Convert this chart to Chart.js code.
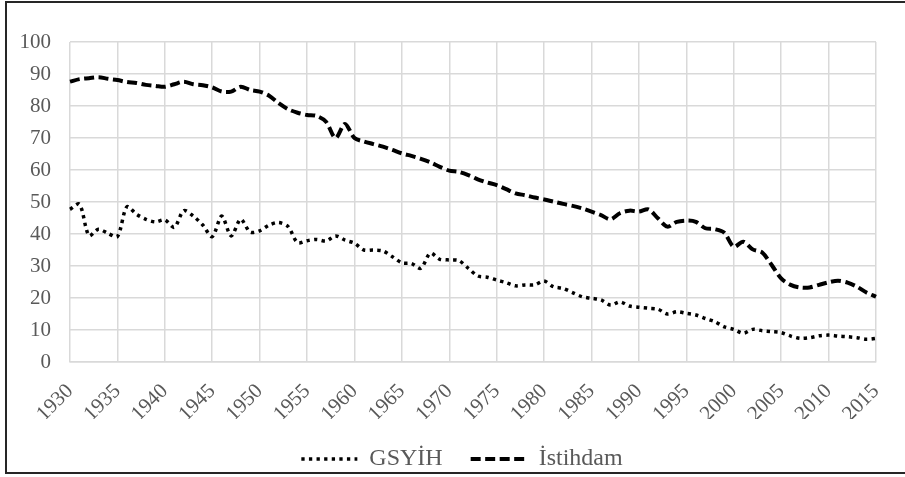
<!DOCTYPE html>
<html>
<head>
<meta charset="utf-8">
<script src="https://cdn.jsdelivr.net/npm/chart.js@4.4.1/dist/chart.umd.min.js"></script>
<style>
  html, body { margin: 0; padding: 0; background: #fff; }
  canvas { display: block; }
</style>
</head>
<body>
<canvas id="mycanvas" width="905" height="477"></canvas>
<script>
var years = [1930, 1931, 1932, 1933, 1934, 1935, 1936, 1937, 1938, 1939,
             1940, 1941, 1942, 1943, 1944, 1945, 1946, 1947, 1948, 1949,
             1950, 1951, 1952, 1953, 1954, 1955, 1956, 1957, 1958, 1959,
             1960, 1961, 1962, 1963, 1964, 1965, 1966, 1967, 1968, 1969,
             1970, 1971, 1972, 1973, 1974, 1975, 1976, 1977, 1978, 1979,
             1980, 1981, 1982, 1983, 1984, 1985, 1986, 1987, 1988, 1989,
             1990, 1991, 1992, 1993, 1994, 1995, 1996, 1997, 1998, 1999,
             2000, 2001, 2002, 2003, 2004, 2005, 2006, 2007, 2008, 2009,
             2010, 2011, 2012, 2013, 2014, 2015];

// GSYİH
var gsyih = [47.7, 49.3, 39.5, 41.5, 40.2, 39.2, 48.5, 46.2, 44.6, 43.8,
             44.4, 42.1, 47.3, 45.6, 42.8, 39.2, 45.6, 39.4, 44.6, 40.6,
             41.0, 42.8, 43.6, 42.3, 37.3, 37.9, 38.3, 37.8, 39.4, 38.1,
             37.1, 35.0, 35.0, 34.7, 32.9, 31.0, 30.8, 29.3, 34.0, 32.1,
             31.9, 31.7, 29.3, 26.9, 26.5, 25.6, 24.8, 23.8, 24.1, 24.1,
             25.3, 23.5, 23.0, 21.7, 20.4, 19.9, 19.4, 17.8, 18.8, 17.5,
             17.1, 16.8, 16.5, 15.0, 15.7, 15.2, 14.7, 13.6, 12.6, 11.0,
             10.2, 9.0, 10.2, 9.8, 9.5, 9.2, 8.1, 7.4, 7.6, 8.2,
             8.4, 8.1, 7.9, 7.6, 7.1, 7.4];

// İstihdam
var istihdam = [87.6, 88.4, 88.7, 89.0, 88.5, 88.1, 87.5, 87.2, 86.6, 86.3,
                86.0, 86.8, 87.6, 86.8, 86.5, 85.8, 84.5, 84.5, 86.0, 85.0,
                84.5, 83.2, 80.9, 79.0, 77.9, 77.2, 76.9, 75.1, 70.0, 74.4,
                70.0, 68.9, 68.1, 67.3, 66.3, 65.2, 64.4, 63.5, 62.4, 61.0,
                59.8, 59.4, 58.4, 57.1, 56.1, 55.3, 54.0, 52.7, 52.1, 51.4,
                50.8, 50.1, 49.4, 48.8, 48.0, 47.0, 45.9, 44.6, 46.5, 47.3,
                47.0, 47.7, 44.9, 42.3, 43.8, 44.2, 43.8, 41.8, 41.5, 40.4,
                36.0, 37.6, 35.2, 34.2, 30.3, 26.1, 24.1, 23.3, 23.3, 24.1,
                24.9, 25.4, 24.8, 23.5, 21.7, 20.4];

var yTicks = [0, 10, 20, 30, 40, 50, 60, 70, 80, 90, 100];

var serif = "'Liberation Serif', 'Times New Roman', serif";
var gridColor = '#d9d9d9';
var textColor = '#595959';

// outer frame of the figure
var framePlugin = {
    id: 'frame',
    afterDraw: function (chart) {
        var ctx = chart.ctx;
        ctx.save();
        ctx.strokeStyle = '#262626';
        ctx.lineWidth = 2;
        ctx.beginPath();
        ctx.moveTo(905, 2);
        ctx.lineTo(6, 2);
        ctx.lineTo(6, 473);
        ctx.lineTo(905, 473);
        ctx.stroke();
        ctx.restore();
    }
};

var chartdata = {
    labels: years,
    datasets: [
        {
            label: 'GSYİH',
            data: gsyih,
            borderColor: '#000',
            backgroundColor: '#000',
            borderWidth: 3.5,
            borderDash: [3.3, 4.3],
            borderCapStyle: 'butt',
            pointRadius: 0,
            tension: 0.3,
            fill: false
        },
        {
            label: 'İstihdam',
            data: istihdam,
            borderColor: '#000',
            backgroundColor: '#000',
            borderWidth: 4,
            borderDash: [10, 4.5],
            borderCapStyle: 'butt',
            pointRadius: 0,
            tension: 0.3,
            fill: false
        }
    ]
};

var ctx = document.getElementById('mycanvas');

var lineGraph = new Chart(ctx, {
    type: 'line',
    data: chartdata,
    plugins: [framePlugin],
    options: {
        responsive: false,
        animation: false,
        layout: { padding: { top: 42, right: 0, left: 19, bottom: -4 } },
        plugins: {
            tooltip: { enabled: false },
            legend: {
                position: 'bottom',
                labels: {
                    usePointStyle: true,
                    pointStyle: 'line',
                    pointStyleWidth: 56,
                    padding: 28,
                    color: textColor,
                    font: { family: serif, size: 24 },
                    generateLabels: function (chart) {
                        var items = Chart.defaults.plugins.legend.labels.generateLabels(chart);
                        items.forEach(function (item, i) {
                            var ds = chart.data.datasets[i];
                            item.pointStyle = 'line';
                            item.strokeStyle = '#000';
                            item.lineWidth = ds.borderWidth;
                            item.lineDash = ds.borderDash;
                            item.lineCap = 'butt';
                        });
                        return items;
                    }
                }
            }
        },
        scales: {
            x: {
                afterFit: function (scale) {
                    scale.height = 57;
                    // labels are rotated and end at their tick: no side overflow
                    scale.paddingLeft = 0;
                    scale.paddingRight = 0;
                },
                grid: { color: gridColor, lineWidth: 1.5, drawTicks: false },
                border: { color: gridColor, width: 1.5 },
                ticks: {
                    autoSkip: false,
                    minRotation: 45,
                    maxRotation: 45,
                    padding: 17,
                    color: textColor,
                    font: { family: serif, size: 21 },
                    callback: function (val, i) {
                        return years[i] % 5 === 0 ? String(years[i]) : null;
                    }
                }
            },
            y: {
                min: 0,
                max: 100,
                afterFit: function (scale) { scale.width = 51; },
                afterBuildTicks: function (scale) {
                    scale.ticks = yTicks.map(function (v) { return { value: v }; });
                },
                grid: { color: gridColor, lineWidth: 1.5, drawTicks: false },
                border: { display: false },
                ticks: {
                    padding: 19,
                    color: textColor,
                    font: { family: serif, size: 21 }
                }
            },
            // empty right-hand spacer so the plot ends where the reference does
            spacer: {
                position: 'right',
                display: true,
                afterFit: function (scale) { scale.width = 29; },
                grid: { display: false },
                border: { display: false },
                ticks: { display: false }
            }
        }
    }
});
</script>
</body>
</html>
